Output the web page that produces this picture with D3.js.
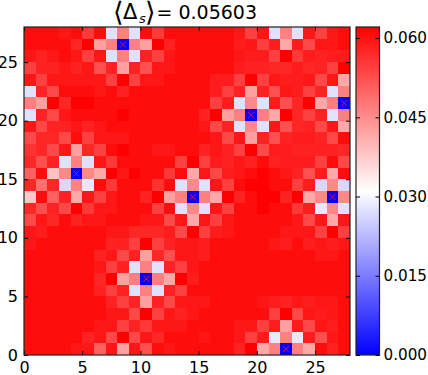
<!DOCTYPE html>
<html>
<head>
<meta charset="utf-8">
<script src="https://cdnjs.cloudflare.com/ajax/libs/d3/7.8.5/d3.min.js"></script>
<style>
  html, body { margin: 0; padding: 0; background: #fff; overflow: hidden; }
  text { font-family: "DejaVu Sans", sans-serif; fill: #000; }
</style>
</head>
<body>
<div id="chart"></div>
<script>
// gap values, in units of 1e-4, top row (27) first
var row27 = [611,601,601,596,611,553,601,273,465,273,601,553,601,611,611,611,611,611,596,543,596,273,465,273,592,543,596,611]
var row26 = [601,601,601,601,572,621,426,465,5,465,426,621,582,601,606,606,606,606,587,596,543,587,416,587,533,596,596,611]
var row25 = [592,582,596,601,596,543,592,273,465,273,582,543,596,601,601,601,601,601,596,587,587,543,621,553,587,577,587,587]
var row24 = [543,582,582,596,582,592,523,582,426,582,523,592,592,601,606,606,606,606,587,582,582,572,572,587,572,582,543,616]
var row23 = [592,543,592,592,596,592,592,543,621,543,596,596,601,611,606,606,587,587,543,621,543,592,587,587,592,533,592,416]
var row22 = [273,582,533,601,601,601,592,601,582,601,601,601,601,601,611,606,587,543,582,426,582,523,592,587,543,582,273,465]
var row21 = [465,426,621,572,621,616,601,601,601,601,601,601,601,606,611,601,543,587,273,455,273,587,523,572,616,416,465,5]
var row20 = [273,582,533,592,601,601,601,601,616,601,601,601,601,601,601,582,616,426,465,5,465,416,616,572,543,582,273,465]
var row19 = [592,533,582,582,592,582,596,601,601,601,601,601,601,601,601,592,533,582,273,455,273,592,523,572,582,533,592,416]
var row18 = [533,572,572,533,611,543,592,592,596,601,601,601,601,606,606,606,592,533,592,426,582,523,582,587,587,582,533,611]
var row17 = [562,572,533,592,426,572,543,601,616,611,606,596,596,601,601,582,592,582,543,621,533,587,587,582,577,577,577,572]
var row16 = [572,523,582,273,465,273,592,553,601,611,611,601,601,543,616,543,587,577,592,582,601,582,587,587,587,543,611,533]
var row15 = [504,601,386,455,5,455,416,621,592,616,606,601,553,601,416,592,533,587,592,611,616,611,592,582,523,587,416,601]
var row14 = [572,484,572,264,465,283,611,553,601,611,606,562,601,273,455,273,592,543,606,616,616,611,601,543,587,264,455,264]
var row13 = [377,601,504,582,416,592,543,592,606,611,582,616,426,465,5,465,416,616,582,611,621,616,582,621,416,455,5,455]
var row12 = [572,523,582,533,616,553,592,592,606,606,606,543,601,273,455,273,592,543,606,611,616,611,601,553,587,283,455,273]
var row11 = [533,592,572,601,582,592,596,606,611,611,592,592,533,592,416,592,543,592,601,611,611,606,601,592,533,592,416,592]
var row10 = [596,587,606,606,606,606,606,596,596,572,572,572,587,533,621,543,587,592,601,606,606,606,596,592,592,543,621,543]
var row9 = [596,606,611,611,606,606,606,582,582,543,621,543,582,592,592,587,606,606,601,606,601,592,587,601,587,592,587,592]
var row8 = [601,601,601,601,601,601,582,592,533,582,426,572,523,592,592,587,606,606,601,611,601,601,601,601,601,592,592,601]
var row7 = [601,601,601,601,601,601,592,543,582,273,465,273,582,543,592,606,606,606,606,611,611,611,611,606,606,606,606,606]
var row6 = [606,606,606,606,606,611,572,616,426,465,5,465,416,616,587,606,606,606,606,606,611,611,611,611,611,611,606,606]
var row5 = [601,601,601,601,601,601,582,543,582,273,465,273,582,543,601,606,606,606,606,606,606,606,606,606,606,606,606,606]
var row4 = [601,601,601,601,601,601,601,582,543,582,426,582,533,592,596,592,606,606,606,601,592,587,577,592,587,592,596,601]
var row3 = [606,606,606,606,606,606,606,592,592,533,621,543,592,582,592,606,606,606,606,601,601,543,621,533,592,587,596,601]
var row2 = [606,606,606,606,606,606,592,592,543,582,553,592,592,592,601,606,606,606,596,596,543,587,426,587,533,592,587,606]
var row1 = [606,606,606,606,606,582,592,533,621,533,596,572,601,601,606,596,606,606,596,543,587,283,465,283,587,523,592,606]
var row0 = [606,606,606,606,596,596,504,592,426,592,523,601,592,601,606,606,606,606,582,621,416,465,5,465,416,611,582,601]

var gapRows = [row27,row26,row25,row24,row23,row22,row21,row20,row19,row18,row17,row16,row15,row14,
  row13,row12,row11,row10,row9,row8,row7,row6,row5,row4,row3,row2,row1,row0]

// the x marks on the vortex sites
var vortexX = [8.5, 19.5, 27.5, 4.5, 14.5, 26.5, 10.5, 22.5]
var vortexY = [26.5, 20.5, 21.5, 15.5, 13.5, 13.5, 6.5, 0.5]

var axisTicks = [0, 5, 10, 15, 20, 25]
var barTicks = [0, 0.015, 0.03, 0.045, 0.06]
var gapMax = 0.0621
var gapMid = 0.03105

var width = 428, height = 375
var plot = {left: 24, right: 350, top: 27, bottom: 355}
var bar = {left: 356, right: 379.5}

var svg = d3.select("#chart").append("svg")
    .attr("width", width)
    .attr("height", height)
    .style("display", "block")

var x = d3.scaleLinear().domain([0, 28]).range([plot.left, plot.right])
var y = d3.scaleLinear().domain([0, 28]).range([plot.bottom, plot.top])
var color = d3.scaleLinear()
    .domain([0, gapMid, gapMax])
    .range(["#0000ff", "#ffffff", "#ff0000"])

var defs = svg.append("defs")
defs.append("clipPath").attr("id", "plotClip").append("rect")
    .attr("x", plot.left).attr("y", plot.top)
    .attr("width", plot.right - plot.left).attr("height", plot.bottom - plot.top)
// the reference image is slightly resampled, a small blur gets the same soft cells
defs.append("filter").attr("id", "soft")
    .attr("x", "-2%").attr("y", "-2%").attr("width", "104%").attr("height", "104%")
  .append("feGaussianBlur").attr("stdDeviation", 0.45)

var cells = svg.append("g")
    .attr("clip-path", "url(#plotClip)")
  .append("g")
    .attr("filter", "url(#soft)")
    .attr("shape-rendering", "crispEdges")

gapRows.forEach(function(row, i) {
  var rowNum = 27 - i
  cells.append("g").selectAll("rect")
      .data(row)
    .enter().append("rect")
      .attr("x", function(d, j) { return x(j) })
      .attr("y", y(rowNum + 1))
      .attr("width", x(1) - x(0) + 0.5)
      .attr("height", y(0) - y(1) + 0.5)
      .attr("fill", function(d) { return color(d * 1e-4) })
})

// vortex markers
var markSize = 3
svg.append("g").selectAll("path")
    .data(vortexX)
  .enter().append("path")
    .attr("d", function(d, i) {
      var cx = x(d), cy = y(vortexY[i]), s = markSize
      return "M" + (cx - s) + "," + (cy - s) + "L" + (cx + s) + "," + (cy + s) +
        "M" + (cx - s) + "," + (cy + s) + "L" + (cx + s) + "," + (cy - s)
    })
    .attr("fill", "none")
    .attr("stroke", "#f01040")
    .attr("stroke-width", 0.9)

// axes, ticks point inwards on all four sides like old matplotlib
var plotW = plot.right - plot.left
var plotH = plot.bottom - plot.top
var labelSize = "16px"

var styleAxis = function(g) {
  g.select(".domain").remove()
  g.selectAll("line").attr("stroke", "#000").attr("stroke-width", 1)
  g.selectAll("text").attr("font-size", labelSize).attr("font-family", null)
}

svg.append("g")
    .attr("transform", "translate(0," + plot.bottom + ")")
    .call(d3.axisBottom(x).tickValues(axisTicks).tickFormat(d3.format("d")).tickSizeInner(-4).tickPadding(7))
    .call(styleAxis)

svg.append("g")
    .attr("transform", "translate(0," + plot.top + ")")
    .call(d3.axisTop(x).tickValues(axisTicks).tickFormat("").tickSizeInner(-4))
    .call(styleAxis)

svg.append("g")
    .attr("transform", "translate(" + plot.left + ",0)")
    .call(d3.axisLeft(y).tickValues(axisTicks).tickFormat(d3.format("d")).tickSizeInner(-4).tickPadding(6))
    .call(styleAxis)

svg.append("g")
    .attr("transform", "translate(" + plot.right + ",0)")
    .call(d3.axisRight(y).tickValues(axisTicks).tickFormat("").tickSizeInner(-4))
    .call(styleAxis)

svg.append("rect")
    .attr("x", plot.left).attr("y", plot.top)
    .attr("width", plotW).attr("height", plotH)
    .attr("fill", "none")
    .attr("stroke", "#222")
    .attr("stroke-width", 1.2)

// colorbar
var barScale = d3.scaleLinear().domain([0, gapMax]).range([plot.bottom, plot.top])

var grad = defs.append("linearGradient")
    .attr("id", "bwr")
    .attr("x1", 0).attr("x2", 0).attr("y1", 1).attr("y2", 0)
grad.append("stop").attr("offset", "0%").attr("stop-color", color(0))
grad.append("stop").attr("offset", "50%").attr("stop-color", color(gapMid))
grad.append("stop").attr("offset", "100%").attr("stop-color", color(gapMax))

svg.append("rect")
    .attr("x", bar.left).attr("y", plot.top)
    .attr("width", bar.right - bar.left).attr("height", plotH)
    .attr("fill", "url(#bwr)")
    .attr("stroke", "#222")
    .attr("stroke-width", 1.2)

svg.append("g")
    .attr("transform", "translate(" + bar.right + ",0)")
    .call(d3.axisRight(barScale).tickValues(barTicks).tickFormat(d3.format(".3f")).tickSizeInner(-4).tickPadding(4))
    .call(styleAxis)
    .selectAll("text").attr("font-size", "15.2px")

svg.append("g")
    .attr("transform", "translate(" + bar.left + ",0)")
    .call(d3.axisLeft(barScale).tickValues(barTicks).tickFormat("").tickSizeInner(-4))
    .call(styleAxis)

// title, pieces placed by hand since mathtext spaces them wider
var title = svg.append("text")
    .attr("y", 19)
    .attr("font-size", "19px")
title.append("tspan").attr("x", 113).attr("font-size", "27px").attr("dy", 2).text("\u27e8")
title.append("tspan").attr("x", 123).attr("font-size", "21px").attr("dy", -2).text("\u0394")
title.append("tspan").attr("x", 139).attr("font-size", "13px").attr("font-style", "italic").attr("dy", 4).text("s")
title.append("tspan").attr("x", 145).attr("font-size", "27px").attr("dy", -2).text("\u27e9")
title.append("tspan").attr("x", 156.5).attr("dy", -2).text("= 0.05603")
</script>
</body>
</html>
